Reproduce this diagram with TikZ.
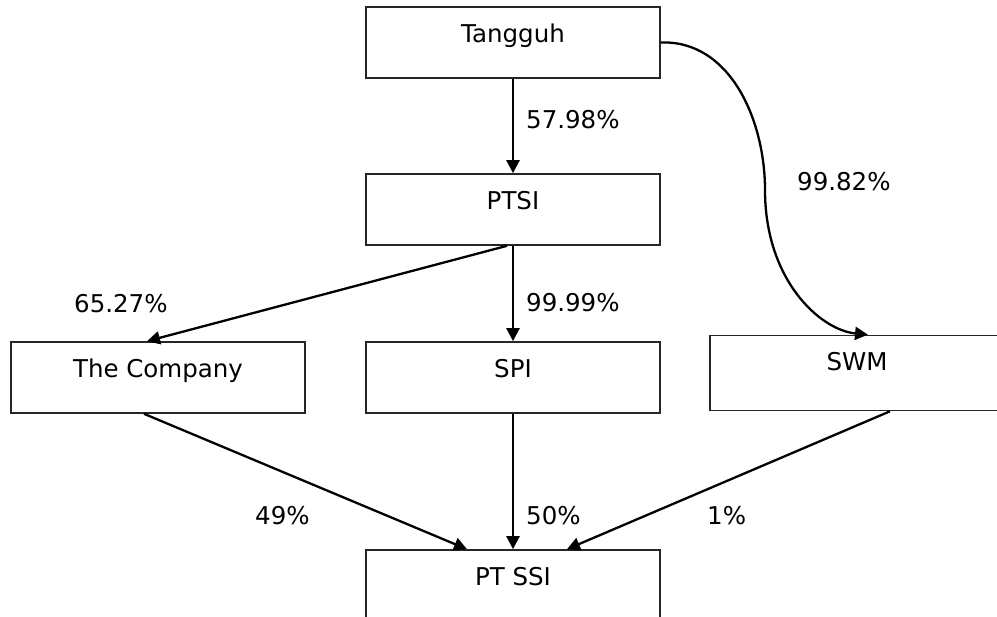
\documentclass[tikz,border=0pt]{standalone}
\usepackage{fontspec}
\setmainfont{DejaVu Sans}
\usetikzlibrary{arrows.meta}
\begin{document}
\begin{tikzpicture}[x=1pt,y=-1pt,
  box/.style={draw=black!85, line width=1.6pt, minimum width=294pt, inner sep=0pt,
    text height=35.5pt, text depth=35.5pt, font=\fontsize{24.5}{29}\selectfont},
  conn/.style={line width=2.3pt, -{Triangle[length=13pt,width=13pt]}},
  pct/.style={anchor=base west, inner sep=0pt, font=\fontsize{24.5}{29}\selectfont}]
\useasboundingbox (0,0) rectangle (997,617);
\clip (0,0) rectangle (997,617);
\fill[white] (0,0) rectangle (997,617);
\node[box] (tang) at (513,42.5) {Tangguh};
\node[box] (ptsi) at (513,209.5) {PTSI};
\node[box] (comp) at (158,377.5) {The Company};
\node[box] (spi) at (513,377.5) {SPI};
\node[box, text height=35pt, text depth=40pt] (swm) at (857,373) {SWM};
\node[box] (ptssi) at (513,585.5) {PT SSI};
\coordinate (bend) at (765,190);
\draw[conn] (tang) -- (ptsi);
\draw[conn] ([xshift=-6pt]ptsi.south) -- ([xshift=-11pt]comp.north);
\draw[conn] (ptsi) -- (spi);
\draw[conn] (tang.east) .. controls (730,40) and (765,120) .. (bend)
  .. controls (765,280) and (820,330) .. ([xshift=11pt]swm.north);
\draw[conn] ([xshift=-14pt]comp.south) -- ([xshift=-46pt]ptssi.north);
\draw[conn] (spi) -- (ptssi);
\draw[conn] ([xshift=33pt]swm.south) -- ([xshift=54pt]ptssi.north);
\node[pct] (l1) at (526,129) {57.98\%};
\node[pct] (l2) at (797,191) {99.82\%};
\node[pct] (l3) at (74,313) {65.27\%};
\node[pct] (l4) at (526,312) {99.99\%};
\node[pct] (l5) at (255,525) {49\%};
\node[pct] (l6) at (526,525) {50\%};
\node[pct] (l7) at (707,525) {1\%};
\end{tikzpicture}
\end{document}
